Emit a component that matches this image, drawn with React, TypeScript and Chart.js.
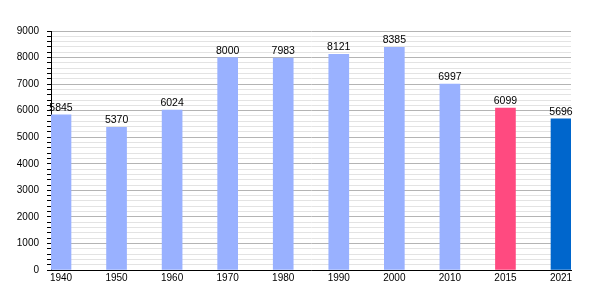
import React, { useEffect, useRef } from "react";
import { Chart, registerables } from "chart.js";

Chart.register(...registerables);

const years = ["1940", "1950", "1960", "1970", "1980", "1990", "2000", "2010", "2015", "2021"];
const population = [5845, 5370, 6024, 8000, 7983, 8121, 8385, 6997, 6099, 5696];
const barColors = [
  "#99b1ff", "#99b1ff", "#99b1ff", "#99b1ff", "#99b1ff",
  "#99b1ff", "#99b1ff", "#99b1ff", "#ff4a80", "#0066cc",
];
const yMax = 9000;
const yMinorStep = 200;
const yMajorStep = 1000;

const FONT = "'Liberation Sans', Arial, sans-serif";

const valueLabels = {
  id: "valueLabels",
  afterDatasetsDraw(chart: any) {
    const ctx = chart.ctx;
    const meta = chart.getDatasetMeta(0);
    ctx.save();
    ctx.font = `10.5px ${FONT}`;
    ctx.fillStyle = "#000";
    ctx.textAlign = "center";
    ctx.textBaseline = "alphabetic";
    meta.data.forEach((bar: any, i: number) => {
      ctx.fillText(String(population[i]), bar.x, bar.y - 4);
    });
    ctx.restore();
  },
};

export default function App() {
  const ref = useRef<HTMLCanvasElement>(null);
  useEffect(() => {
    document.body.style.margin = "0";
    const chart = new Chart(ref.current!, {
      type: "bar",
      data: {
        datasets: [
          {
            data: population.map((v, i) => ({ x: i, y: v })),
            backgroundColor: barColors,
            barThickness: 20,
            borderWidth: 0,
          },
        ],
      },
      options: {
        animation: false,
        responsive: false,
        plugins: { legend: { display: false }, tooltip: { enabled: false } },
        layout: { padding: { left: 0, right: 29, top: 31, bottom: 0 } },
        scales: {
          x: {
            type: "linear",
            min: -0.18,
            max: 9.18,
            offset: false,
            afterBuildTicks: (scale: any) => {
              scale.ticks = years.map((_, i) => ({ value: i }));
            },
            afterFit: (scale: any) => {
              scale.height = 30;
            },
            ticks: {
              autoSkip: false,
              maxRotation: 0,
              padding: 2,
              color: "#000",
              font: { family: FONT, size: 10 },
              callback: (v: any) => years[Math.round(Number(v))] ?? "",
            },
            grid: { display: true, drawOnChartArea: false, drawTicks: false },
            border: { display: true, color: "#000", width: 1 },
          },
          y: {
            min: 0,
            max: yMax,
            afterFit: (scale: any) => {
              scale.width = 51;
            },
            ticks: {
              stepSize: yMinorStep,
              autoSkip: false,
              padding: 8,
              color: "#000",
              font: { family: FONT, size: 10 },
              callback: (v: any) => (Number(v) % yMajorStep === 0 ? String(v) : ""),
            },
            grid: {
              color: (c: any) =>
                c.tick && c.tick.value % yMajorStep === 0 ? "#b4b4b4" : "#e3e3e3",
              tickColor: "#000",
              tickLength: 4,
              lineWidth: 1,
            },
            border: { display: true, color: "#000", width: 1 },
          },
        },
      },
      plugins: [valueLabels],
    });
    return () => chart.destroy();
  }, []);
  return (
    <div style={{ position: "fixed", left: 0, top: 0, width: 600, height: 300, background: "#fff" }}>
      <canvas ref={ref} width={600} height={300} />
    </div>
  );
}
